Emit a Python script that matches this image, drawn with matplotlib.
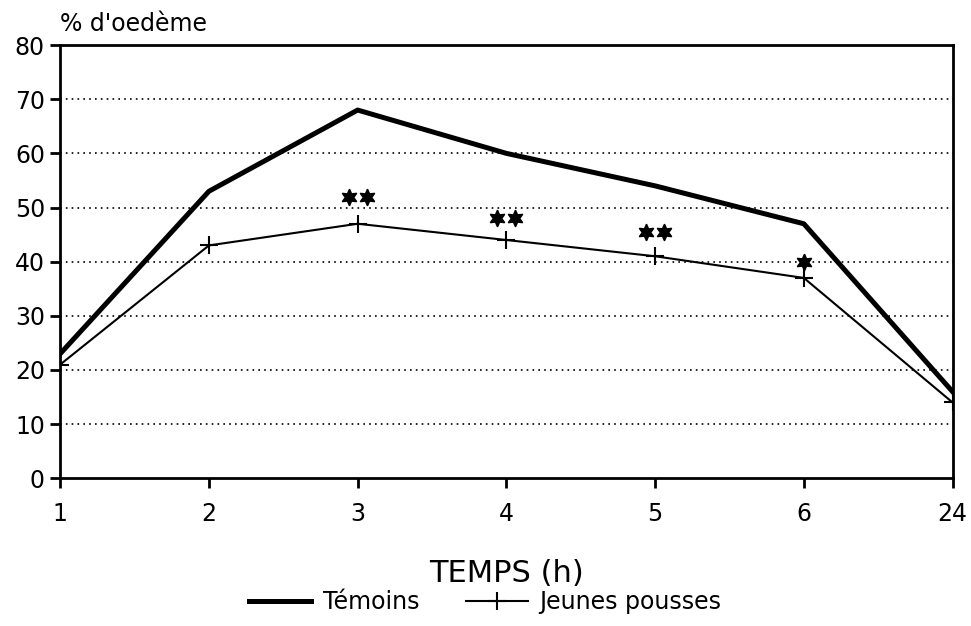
import matplotlib.pyplot as plt
from matplotlib.transforms import ScaledTranslation

# temps (h) et % d'oedème
temps = ['1', '2', '3', '4', '5', '6', '24']
temoins = [23, 53, 68, 60, 54, 47, 16]
jeunes_pousses = [21, 43, 47, 44, 41, 37, 14]
# nombre d'étoiles (significativité) et leur hauteur
nb_etoiles = [0, 0, 2, 2, 2, 1, 0]
hauteur_etoiles = [0, 0, 52, 48, 45.5, 40, 0]

plt.rcParams['font.family'] = ['DejaVu Sans']

fig = plt.figure(figsize=(9.71, 6.26), dpi=100)
ax = fig.add_axes([0.062, 0.236, 0.919, 0.692])

x = list(range(len(temps)))
ax.plot(x, temoins, color='black', linewidth=3.6, label='Témoins')
ax.plot(x, jeunes_pousses, color='black', linewidth=1.5, marker='+',
        markersize=13, markeredgewidth=1.5, label='Jeunes pousses')

# étoiles à six branches, espacées de ~13 points
for xi, n, h in zip(x, nb_etoiles, hauteur_etoiles):
    for k in range(n):
        dx = (k - (n - 1) / 2) * 13 / 72
        tr = ax.transData + ScaledTranslation(dx, 0, fig.dpi_scale_trans)
        ax.plot([xi], [h], marker=(6, 1, 0), markersize=12, color='black',
                linestyle='none', transform=tr)

ax.set_xlim(0, len(temps) - 1)
ax.set_ylim(0, 80)
ax.set_xticks(x)
ax.set_xticklabels(temps)
ax.set_yticks(range(0, 81, 10))
ax.tick_params(axis='both', labelsize=17, width=2, length=7, direction='out')
ax.tick_params(axis='x', pad=10)
ax.tick_params(axis='y', pad=4)
for sp in ax.spines.values():
    sp.set_linewidth(2)

for v in range(10, 80, 10):
    ax.axhline(v, color='black', linestyle=(0, (1, 2.5)), linewidth=1.2, zorder=0)

ax.set_xlabel('TEMPS (h)', fontsize=22, labelpad=24)
ax.text(0.0, 1.02, "% d'oedème", transform=ax.transAxes, fontsize=17, ha='left', va='bottom')

fig.legend(loc='lower center', bbox_to_anchor=(0.5, -0.015), ncol=2, frameon=False,
           fontsize=17, handlelength=2.6, handletextpad=0.5, columnspacing=2)

fig.savefig('out.png', dpi=100)
